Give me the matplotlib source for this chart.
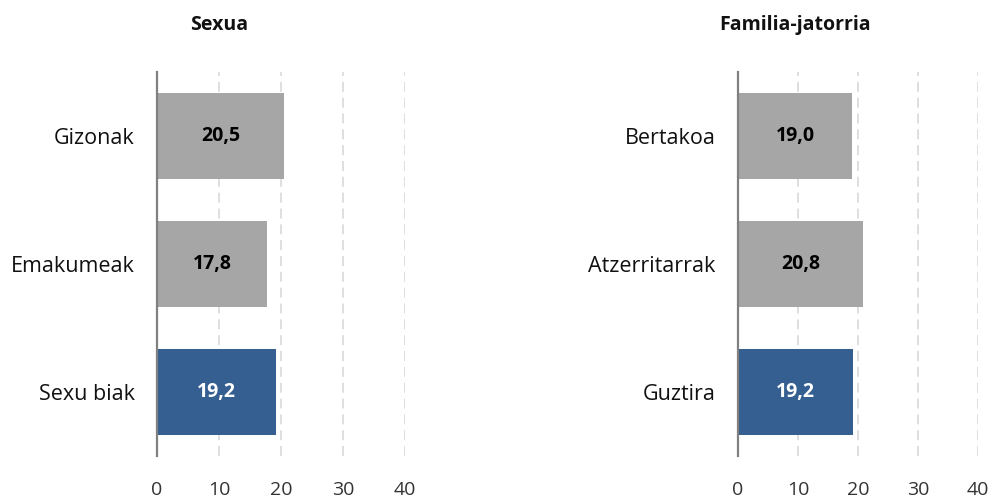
import matplotlib
matplotlib.use("Agg")
import matplotlib.pyplot as plt

plt.rcParams['font.family'] = ['Open Sans', 'DejaVu Sans']

# Data
sex_labels = ["Gizonak", "Emakumeak", "Sexu biak"]
sex_values = [20.5, 17.8, 19.2]
origin_labels = ["Bertakoa", "Atzerritarrak", "Guztira"]
origin_values = [19.0, 20.8, 19.2]
x_ticks = [0, 10, 20, 30, 40]
titles = ["Sexua", "Familia-jatorria"]

GRAY = "#A6A6A6"
BLUE = "#355F91"

W, H = 995, 501
fig = plt.figure(figsize=(W / 100, H / 100), dpi=100)


def panel(left_px, width_px, labels, values, title, title_x_px):
    top_px, bottom_px = 72, 456
    ax = fig.add_axes([left_px / W, (H - bottom_px) / H, width_px / W,
                       (bottom_px - top_px) / H])
    ypos = list(range(len(labels)))
    colors = [GRAY] * (len(labels) - 1) + [BLUE]
    ax.barh(ypos, values, height=0.665, color=colors, zorder=2)
    for y, v, c in zip(ypos, values, colors):
        txt = f"{v:.1f}".replace(".", ",")
        ax.text(v / 2, y, txt, ha="center", va="center", fontsize=14,
                fontweight="bold", color="white" if c == BLUE else "black",
                zorder=3)
    ax.set_xlim(0, 40)
    ax.set_ylim(len(labels) - 0.5, -0.5)
    ax.set_xticks(x_ticks)
    ax.set_xticklabels([str(t) for t in x_ticks], fontsize=14, color="#333333")
    ax.set_yticks(ypos)
    ax.set_yticklabels(labels, fontsize=15.5, color="#111111")
    ax.tick_params(axis="both", length=0)
    ax.tick_params(axis="x", pad=18)
    ax.tick_params(axis="y", pad=16)
    for s in ["top", "right", "bottom"]:
        ax.spines[s].set_visible(False)
    ax.spines["left"].set_color("#808080")
    ax.spines["left"].set_linewidth(1.6)
    ax.spines["left"].set_zorder(4)
    for t in x_ticks[1:]:
        ax.axvline(t, color="#D9D9D9", linestyle=(0, (6, 3.5)), linewidth=1.2,
                   zorder=1)
    fig.text(title_x_px / W, 1 - 25 / H, title, ha="center", va="center",
             fontsize=14, fontweight="bold", color="#111111")
    return ax


panel(157, 248, sex_labels, sex_values, titles[0], 219)
panel(738, 240, origin_labels, origin_values, titles[1], 795)

fig.savefig("out.png", dpi=100)
